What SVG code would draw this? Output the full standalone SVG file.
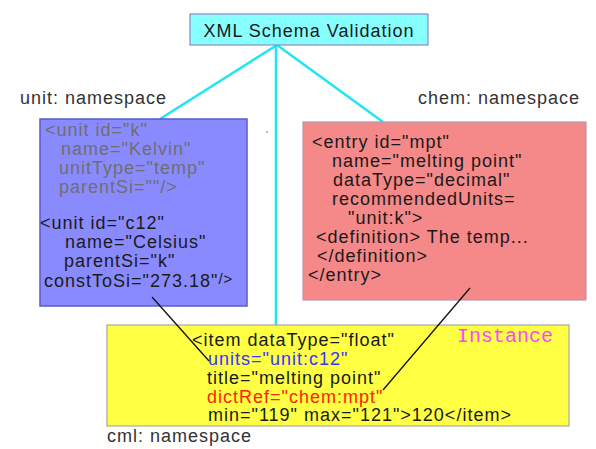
<svg xmlns="http://www.w3.org/2000/svg" width="596" height="449" viewBox="0 0 596 449">
<style>
text{font-family:"Liberation Sans",Arial,Helvetica,sans-serif;font-size:18px;letter-spacing:1px;fill:#1a1a1a}
.g{fill:#6e6e6e}
.lbl{fill:#333}
.cy{stroke:#22e6ee;stroke-width:2.6;fill:none}
.bk{stroke:#111;stroke-width:1.3;fill:none}
</style>
<rect width="596" height="449" fill="#ffffff"/>
<g id="connectors">
<line class="cy" x1="277" y1="45" x2="160" y2="119"/>
<line class="cy" x1="277" y1="45" x2="383" y2="122"/>
<line class="cy" x1="276" y1="45" x2="276" y2="325"/>
</g>
<g id="title">
<rect x="190" y="14" width="238" height="31" fill="#88ffff" stroke="#8a8ac8" stroke-width="1.2"/>
<text x="309" y="37" text-anchor="middle">XML Schema Validation</text>
</g>
<g id="unit-label"><text class="lbl" x="20" y="104">unit: namespace</text></g>
<g id="chem-label"><text class="lbl" x="418" y="104">chem: namespace</text></g>
<g id="cml-label"><text class="lbl" x="107" y="442">cml: namespace</text></g>
<g id="unit">
<rect x="40" y="119" width="207" height="187" fill="#8a8aff" stroke="#5a5acc" stroke-width="1.5"/>
<text class="g" x="45" y="136">&lt;unit id="k"</text>
<text class="g" x="61" y="155">name="Kelvin"</text>
<text class="g" x="59" y="174">unitType="temp"</text>
<text class="g" x="59" y="193">parentSi=""/&gt;</text>
<text x="40" y="229">&lt;unit id="c12"</text>
<text x="65" y="248">name="Celsius"</text>
<text x="64" y="267">parentSi="k"</text>
<text x="44" y="287">constToSi="273.18"<tspan font-size="15" dy="-3">/&gt;</tspan></text>
</g>
<g id="chem">
<rect x="303" y="122" width="283" height="178" fill="#f58888" stroke="#b496b4" stroke-width="1.2"/>
<text x="312" y="148">&lt;entry id="mpt"</text>
<text x="332" y="167">name="melting point"</text>
<text x="333" y="186">dataType="decimal"</text>
<text x="332" y="205">recommendedUnits=</text>
<text x="348" y="224">"unit:k"&gt;</text>
<text x="316" y="243">&lt;definition&gt; The temp...</text>
<text x="317" y="262">&lt;/definition&gt;</text>
<text x="308" y="281">&lt;/entry&gt;</text>
</g>
<g id="instance">
<rect x="107" y="325" width="462" height="101" fill="#ffff44" stroke="#a8a8a8" stroke-width="1.2"/>
<text x="457" y="342" style="font-family:'Liberation Mono','Courier New',monospace;font-size:20px;letter-spacing:0;fill:#ff44ff">Instance</text>
<text x="192" y="346">&lt;item dataType="float"</text>
<text x="208" y="365" style="fill:#3434ff">units="unit:c12"</text>
<text x="207" y="384">title="melting point"</text>
<text x="207" y="403" style="fill:#ff2200">dictRef="chem:mpt"</text>
<text x="208" y="421">min="119" max="121"&gt;120&lt;/item&gt;</text>
</g>
<g id="links">
<line class="bk" x1="152" y1="297" x2="209" y2="361"/>
<line class="bk" x1="470" y1="288" x2="383" y2="390"/>
</g>
<circle cx="267" cy="132" r="0.8" fill="#666"/>
</svg>
